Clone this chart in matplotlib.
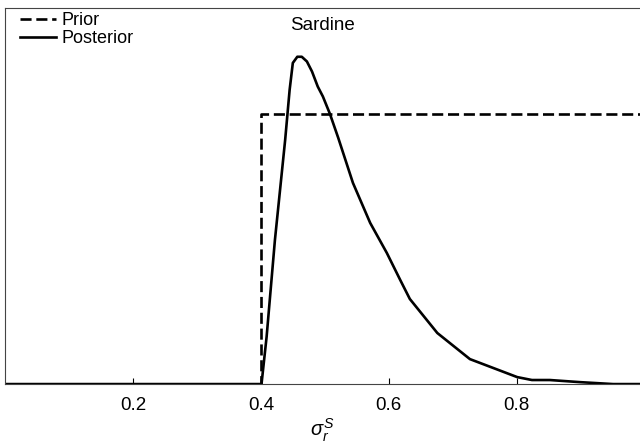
import matplotlib
matplotlib.use("Agg")
import matplotlib.pyplot as plt
import numpy as np

plt.rcParams["font.family"] = ["Liberation Sans", "DejaVu Sans"]
plt.rcParams["mathtext.fontset"] = "custom"
plt.rcParams["mathtext.rm"] = "Liberation Sans"
plt.rcParams["mathtext.it"] = "Liberation Sans:italic"

# Prior: uniform density from 0.4 upward
prior_x = [0.0, 0.4, 0.4, 1.0]
prior_y = [0.0, 0.0, 1.667, 1.667]

# Posterior density
post_x = [0.0, 0.401, 0.409, 0.422, 0.438, 0.445, 0.450, 0.457, 0.464,
          0.472, 0.480, 0.489, 0.497, 0.508, 0.521, 0.544, 0.571, 0.597,
          0.618, 0.633, 0.676, 0.727, 0.801, 0.824, 0.852, 0.899, 0.951, 1.0]
post_y = [0.0, 0.0, 0.292, 0.889, 1.506, 1.815, 1.981, 2.019, 2.019,
          1.990, 1.928, 1.835, 1.774, 1.667, 1.519, 1.241, 0.994, 0.809,
          0.642, 0.525, 0.315, 0.154, 0.043, 0.025, 0.025, 0.012, 0.0, 0.0]

fig = plt.figure(figsize=(6.4, 4.43), dpi=100)
ax = fig.add_axes([0.008, 0.133, 0.992, 0.849])

ax.plot(prior_x, prior_y, "k--", lw=1.9, label="Prior", dashes=(4.2, 1.8))
ax.plot(post_x, post_y, "k-", lw=1.9, label="Posterior")

ax.set_xlim(0, 0.993)
ax.set_ylim(0, 2.32)
ax.set_yticks([])
ax.set_xticks([0.2, 0.4, 0.6, 0.8])
ax.set_xticklabels(["0.2", "0.4", "0.6", "0.8"])
ax.tick_params(axis="x", direction="in", length=4, width=0.8, labelsize=13.5, pad=9)
ax.spines["right"].set_visible(False)
for s in ["left", "top", "bottom"]:
    ax.spines[s].set_color("#444444")

ax.text(0.5, 0.975, "Sardine", transform=ax.transAxes, ha="center", va="top", fontsize=13.5)
ax.set_xlabel(r"$\sigma_r^S$", fontsize=14.5, labelpad=2)

ax.legend(loc="upper left", bbox_to_anchor=(0.016, 1.0), frameon=False,
          fontsize=13, handlelength=2.0, handletextpad=0.3,
          labelspacing=0.05, borderaxespad=0.25, borderpad=0.0)

fig.savefig("out.png", dpi=100)
